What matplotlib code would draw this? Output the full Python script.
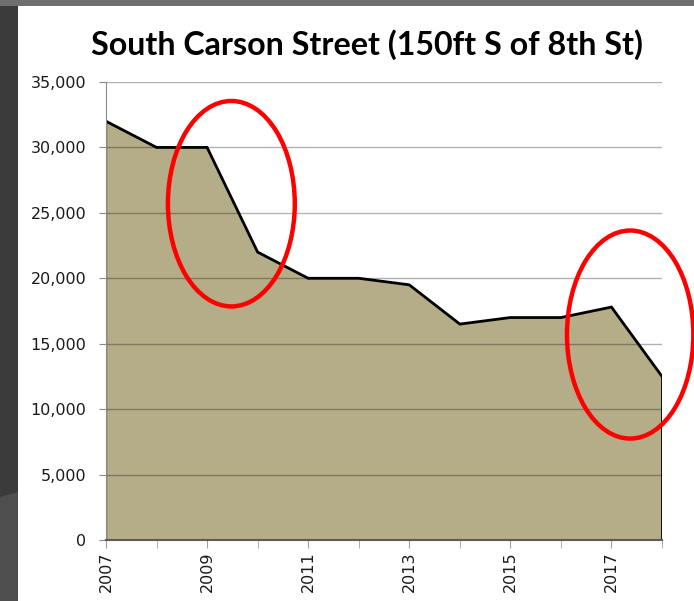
import matplotlib
matplotlib.use("Agg")
import matplotlib.pyplot as plt
from matplotlib.patches import Ellipse, Rectangle, Polygon
from matplotlib.ticker import FuncFormatter, MultipleLocator

years = [2007, 2008, 2009, 2010, 2011, 2012, 2013, 2014, 2015, 2016, 2017, 2018]
traffic = [32000, 30000, 30000, 22000, 20000, 20000, 19500, 16500, 17000, 17000, 17800, 12500]
title = "South Carson Street (150ft S of 8th St)"
label_years = [2007, 2009, 2011, 2013, 2015, 2017]
# annotation ellipses: (center year, center value, width in years, height in value units)
highlights = [(2009.48, 25700, 2.51, 15700), (2017.37, 15700, 2.50, 15900)]

W, H = 694, 601
fig = plt.figure(figsize=(W / 100, H / 100), dpi=100, facecolor="white")

# slide background pieces
fig.patches.append(Rectangle((0, 0), 18 / W, 1, transform=fig.transFigure,
                             facecolor="#3b3b3b", edgecolor="none", zorder=0))
fig.patches.append(Polygon([(0, 0), (18 / W, 0), (18 / W, 1 - 492 / H), (0, 1 - 497 / H)],
                           closed=True, transform=fig.transFigure,
                           facecolor="#4e4e4e", edgecolor="none", zorder=0))
fig.patches.append(Rectangle((0, 1 - 6 / H), 1, 6 / H, transform=fig.transFigure,
                             facecolor="#6f6f6f", edgecolor="none", zorder=0))

ax = fig.add_axes([106 / W, 1 - 540 / H, (662 - 106) / W, (540 - 82) / H])
ax.set_facecolor("white")

ax.fill_between(years, traffic, 0, facecolor="#b5ad88", edgecolor="none", zorder=2)
ax.plot(years, traffic, color="black", lw=2.0, zorder=4, solid_joinstyle="miter")
ax.plot([years[0], years[0]], [0, traffic[0]], color="black", lw=1.6, zorder=4)
ax.plot([years[-1], years[-1]], [0, traffic[-1]], color="black", lw=2.0, zorder=4)

ax.set_xlim(years[0], years[-1])
ax.set_ylim(0, 35000)
ax.yaxis.set_major_locator(MultipleLocator(5000))
ax.yaxis.set_major_formatter(FuncFormatter(lambda v, p: f"{int(v):,}"))
ax.grid(axis="y", color="black", alpha=0.3, lw=1.0, zorder=3)
ax.set_axisbelow(False)

ax.set_xticks(label_years)
ax.set_xticklabels([str(y) for y in label_years], rotation=90)
ax.set_xticks(years, minor=True)

for s in ["top", "right"]:
    ax.spines[s].set_visible(False)
ax.spines["left"].set_color("#8a8a8a")
ax.spines["bottom"].set_color("#5a5a5a")
ax.spines["bottom"].set_linewidth(1.5)
ax.spines["left"].set_zorder(5)
ax.spines["bottom"].set_zorder(5)

ax.tick_params(axis="y", which="major", length=5, color="#8a8a8a", labelsize=11.5,
               pad=9, labelcolor="#1a1a1a")
ax.tick_params(axis="x", which="both", length=6, color="#a0a0a0", labelsize=11.5,
               pad=2, labelcolor="#1a1a1a")

for cx, cy, w, h in highlights:
    e = Ellipse((cx, cy), w, h, facecolor="none", edgecolor="#ff0000", lw=3.2,
                zorder=6, clip_on=False)
    ax.add_patch(e)

fig.text(367 / W, 1 - 45 / H, title, ha="center", va="center",
         fontsize=23.2, fontweight="bold", family=["Lato", "DejaVu Sans"], color="black")

fig.savefig("out.png", dpi=100, facecolor=fig.get_facecolor())
